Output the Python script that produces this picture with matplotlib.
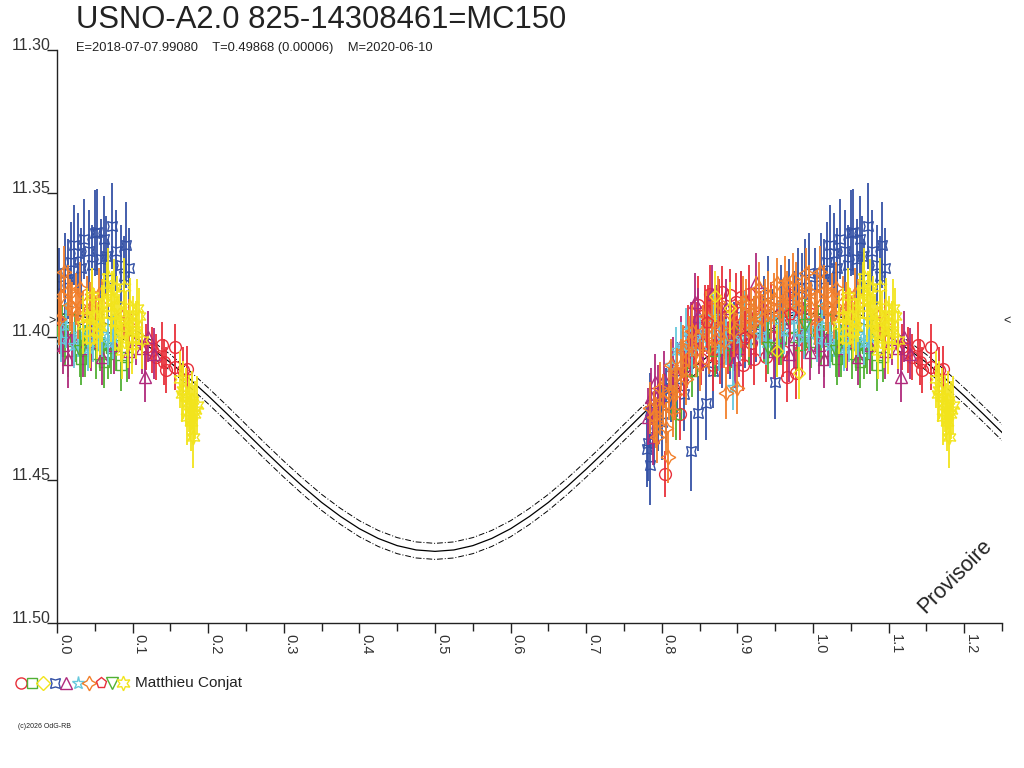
import numpy as np
import matplotlib
matplotlib.use("Agg")
import matplotlib.pyplot as plt
from matplotlib.lines import Line2D

plt.rcParams['font.family'] = ['Liberation Sans', 'DejaVu Sans']

# ---------------- data ----------------
title = "USNO-A2.0 825-14308461=MC150"
subtitle = "E=2018-07-07.99080    T=0.49868 (0.00006)    M=2020-06-10"
observer = "Matthieu Conjat"
x_ticks = [0.0, 0.1, 0.2, 0.3, 0.4, 0.5, 0.6, 0.7, 0.8, 0.9, 1.0, 1.1, 1.2]
x_tick_labels = ["0.0", "0.1", "0.2", "0.3", "0.4", "0.5", "0.6", "0.7", "0.8", "0.9", "1.0", "1.1", "1.2"]
y_ticks = [11.30, 11.35, 11.40, 11.45, 11.50]
y_tick_labels = ["11.30", "11.35", "11.40", "11.45", "11.50"]
mean_mag = 11.3946

model_phase = [0.000, 0.025, 0.050, 0.075, 0.100, 0.125, 0.150, 0.175, 0.200, 0.225, 0.250,
               0.275, 0.300, 0.325, 0.350, 0.375, 0.400, 0.425, 0.450, 0.475, 0.500,
               0.525, 0.550, 0.575, 0.600, 0.625, 0.650, 0.675, 0.700, 0.725, 0.750,
               0.775, 0.800, 0.825, 0.850, 0.875, 0.900, 0.925, 0.950, 0.975, 1.000,
               1.025, 1.050, 1.075, 1.100, 1.125, 1.150, 1.175, 1.200, 1.225, 1.250]
model_mag = [11.3920, 11.3925, 11.3940, 11.3965, 11.3999, 11.4042, 11.4091, 11.4147, 11.4207, 11.4270, 11.4335,
             11.4400, 11.4463, 11.4523, 11.4579, 11.4628, 11.4671, 11.4705, 11.4730, 11.4745, 11.4750,
             11.4745, 11.4730, 11.4705, 11.4671, 11.4628, 11.4579, 11.4523, 11.4463, 11.4400, 11.4335,
             11.4270, 11.4207, 11.4147, 11.4091, 11.4042, 11.3999, 11.3965, 11.3940, 11.3925, 11.3920,
             11.3925, 11.3940, 11.3965, 11.3999, 11.4042, 11.4091, 11.4147, 11.4207, 11.4270, 11.4335]
model_band = 0.0028

# series 1: red circles
red_o_phase = [0.804, 0.815, 0.824, 0.830, 0.835, 0.838, 0.842, 0.846, 0.852, 0.857, 0.861, 0.866, 0.870,
               0.872, 0.877, 0.879, 0.883, 0.885, 0.890, 0.893, 0.896, 0.900, 0.905, 0.912, 0.918, 0.925,
               0.930, 0.938, 0.948, 0.965, 0.978, 0.990, 0.998, 0.004,
               0.833, 0.848, 0.855, 0.864, 0.868, 0.875, 0.888, 0.898, 0.908, 0.915, 0.922, 0.945, 0.955,
               0.960, 0.985,
               0.118, 0.126, 0.131, 0.139, 0.142, 0.144, 0.156, 0.156, 0.167, 0.172]
red_o_mag = [11.448, 11.418, 11.427, 11.412, 11.398, 11.405, 11.402, 11.397, 11.408, 11.391, 11.391, 11.400, 11.395,
             11.404, 11.4075, 11.3844, 11.399, 11.393, 11.3855, 11.402, 11.398, 11.397, 11.3861, 11.392, 11.4024, 11.398,
             11.393, 11.407, 11.400, 11.414, 11.4127, 11.396, 11.392, 11.397,
             11.409, 11.389, 11.403, 11.385, 11.410, 11.390, 11.404, 11.388, 11.410, 11.385, 11.408, 11.390, 11.397,
             11.405, 11.403,
             11.4036, 11.4047, 11.4073, 11.4030, 11.4090, 11.4117, 11.4037, 11.4105, 11.4117, 11.4112]
red_o_err = [0.008, 0.009, 0.009, 0.009, 0.009, 0.009, 0.009, 0.009, 0.009, 0.009, 0.009, 0.009, 0.009,
             0.009, 0.009, 0.009, 0.009, 0.009, 0.009, 0.009, 0.009, 0.009, 0.009, 0.009, 0.009, 0.009,
             0.009, 0.009, 0.009, 0.009, 0.009, 0.009, 0.009, 0.009,
             0.009, 0.010, 0.009, 0.010, 0.009, 0.010, 0.009, 0.010, 0.009, 0.010, 0.009, 0.009, 0.009,
             0.009, 0.009,
             0.008, 0.008, 0.008, 0.008, 0.008, 0.008, 0.008, 0.008, 0.008, 0.008]

# series 2: green squares
green_s_phase = [0.819, 0.905, 0.922, 0.935, 0.945, 0.958, 0.968, 0.980, 0.990, 0.998, 0.006, 0.015, 0.024,
                 0.032, 0.042, 0.052, 0.062, 0.072, 0.078, 0.085, 0.092,
                 0.840, 0.870, 0.890, 0.915, 0.952, 0.975, 0.010, 0.037, 0.057, 0.067]
green_s_mag = [11.427, 11.398, 11.395, 11.400, 11.396, 11.401, 11.397, 11.403, 11.399, 11.402, 11.398, 11.405, 11.400,
               11.408, 11.402, 11.406, 11.409, 11.404, 11.403, 11.410, 11.407,
               11.412, 11.405, 11.403, 11.401, 11.405, 11.400, 11.401, 11.405, 11.403, 11.406]
green_s_err = [0.009] * 31

# series 3: yellow diamonds
yellow_d_phase = [0.870, 0.890, 0.952, 0.982]
yellow_d_mag = [11.386, 11.390, 11.405, 11.4127]
yellow_d_err = [0.009, 0.009, 0.009, 0.009]

# series 4: blue concave squares
blue_phase = [0.781, 0.782, 0.784, 0.784, 0.790, 0.795, 0.805, 0.812, 0.838, 0.848, 0.858, 0.868, 0.880,
              0.895, 0.910, 0.925, 0.935, 0.950, 0.958, 0.968, 0.980, 0.990, 0.003, 0.010, 0.018,
              0.028, 0.032, 0.042, 0.046, 0.050, 0.053, 0.058, 0.062, 0.068, 0.073, 0.084, 0.088, 0.091,
              0.800, 0.820, 0.830, 0.875, 0.890, 0.905, 0.940, 0.975, 0.985, 0.995, 0.014, 0.022,
              0.036, 0.065, 0.078, 0.095]
blue_mag = [11.4394, 11.4373, 11.4449, 11.4259, 11.432, 11.428, 11.424, 11.418, 11.440, 11.4268, 11.4231, 11.412, 11.405,
            11.400, 11.398, 11.396, 11.392, 11.4158, 11.389, 11.386, 11.383, 11.380, 11.382, 11.378, 11.374,
            11.371, 11.376, 11.370, 11.375, 11.364, 11.3635, 11.373, 11.366, 11.380, 11.3615, 11.375, 11.379, 11.368,
            11.430, 11.415, 11.420, 11.395, 11.402, 11.390, 11.385, 11.390, 11.385, 11.378, 11.380, 11.368,
            11.366, 11.372, 11.370, 11.376]
blue_err = [0.013, 0.013, 0.014, 0.013, 0.013, 0.012, 0.013, 0.012, 0.014, 0.013, 0.013, 0.013, 0.013,
            0.012, 0.013, 0.013, 0.013, 0.013, 0.014, 0.013, 0.014, 0.014, 0.013, 0.014, 0.014,
            0.014, 0.014, 0.014, 0.014, 0.015, 0.015, 0.014, 0.015, 0.014, 0.015, 0.014, 0.014, 0.015,
            0.013, 0.013, 0.013, 0.013, 0.013, 0.013, 0.013, 0.013, 0.014, 0.014, 0.014, 0.014,
            0.014, 0.014, 0.014, 0.014]

# series 5: magenta triangles
mag_t_phase = [0.782, 0.786, 0.788, 0.791, 0.795, 0.803, 0.815, 0.826, 0.838, 0.848, 0.860, 0.872, 0.880,
               0.892, 0.902, 0.912, 0.925, 0.935, 0.948, 0.960, 0.975, 0.988, 0.996, 0.008, 0.020,
               0.035, 0.075, 0.095, 0.105, 0.112, 0.117, 0.121, 0.128,
               0.832, 0.844, 0.854, 0.866, 0.885, 0.897, 0.918, 0.940, 0.955, 0.968, 0.982, 0.015,
               0.045, 0.060]
mag_t_mag = [11.428, 11.421, 11.435, 11.416, 11.420, 11.415, 11.410, 11.403, 11.398, 11.393, 11.396, 11.392, 11.401,
             11.397, 11.404, 11.393, 11.381, 11.398, 11.405, 11.395, 11.401, 11.398, 11.4053, 11.403, 11.400,
             11.404, 11.403, 11.405, 11.401, 11.404, 11.414, 11.400, 11.406,
             11.410, 11.388, 11.402, 11.385, 11.390, 11.408, 11.400, 11.392, 11.400, 11.406, 11.392, 11.408,
             11.402, 11.407]
mag_t_err = [0.010] * 28 + [0.009] * 5 + [0.010] * 14

# series 6: cyan stars
cyan_phase = [0.812, 0.819, 0.832, 0.850, 0.868, 0.885, 0.894, 0.903, 0.918, 0.930, 0.945, 0.962, 0.975,
              0.988, 0.995, 0.005, 0.012, 0.022, 0.035, 0.048, 0.060, 0.068, 0.074,
              0.825, 0.840, 0.858, 0.876, 0.910, 0.938, 0.955, 0.982, 0.028, 0.041, 0.055]
cyan_mag = [11.410, 11.4047, 11.398, 11.400, 11.393, 11.402, 11.4175, 11.4005, 11.396, 11.399, 11.394, 11.398, 11.394,
            11.400, 11.397, 11.401, 11.396, 11.403, 11.398, 11.401, 11.399, 11.402, 11.400,
            11.403, 11.405, 11.397, 11.404, 11.392, 11.402, 11.396, 11.398, 11.399, 11.404, 11.397]
cyan_err = [0.008] * 34

# series 7: orange four-point stars
orange_phase = [0.785, 0.790, 0.792, 0.793, 0.797, 0.798, 0.801, 0.805, 0.808, 0.810, 0.812, 0.815, 0.820,
                0.828, 0.836, 0.845, 0.855, 0.862, 0.870, 0.878, 0.885, 0.890, 0.899, 0.905, 0.912,
                0.918, 0.925, 0.932, 0.940, 0.945, 0.952, 0.960, 0.966, 0.973, 0.978, 0.985, 0.991,
                0.998, 0.005, 0.009, 0.014, 0.020, 0.025, 0.030, 0.035, 0.040, 0.046, 0.052, 0.060,
                0.088, 0.095,
                0.818, 0.825, 0.832, 0.840, 0.850, 0.858, 0.866, 0.874, 0.882, 0.895, 0.908, 0.915,
                0.922, 0.928, 0.936, 0.948, 0.956, 0.963, 0.970, 0.982, 0.995, 0.002, 0.017, 0.028,
                0.043, 0.056]
orange_mag = [11.425, 11.428, 11.430, 11.435, 11.418, 11.425, 11.422, 11.432, 11.442, 11.420, 11.410, 11.426, 11.413,
              11.405, 11.402, 11.405, 11.398, 11.404, 11.401, 11.397, 11.4198, 11.392, 11.418, 11.395, 11.389,
              11.392, 11.388, 11.394, 11.386, 11.392, 11.3815, 11.389, 11.386, 11.380, 11.383, 11.388, 11.378,
              11.390, 11.386, 11.3774, 11.384, 11.390, 11.387, 11.383, 11.393, 11.388, 11.385, 11.395, 11.389,
              11.392, 11.396,
              11.420, 11.410, 11.415, 11.398, 11.410, 11.393, 11.395, 11.388, 11.402, 11.398, 11.388, 11.398,
              11.395, 11.383, 11.389, 11.387, 11.392, 11.381, 11.388, 11.390, 11.384, 11.394, 11.389, 11.392,
              11.390, 11.385]
orange_err = [0.009] * 77

# series 8: red pentagons
red_p_phase = [0.860, 0.910, 0.970]
red_p_mag = [11.395, 11.400, 11.392]
red_p_err = [0.009, 0.009, 0.009]

# series 9: green down triangles
green_v_phase = [0.940, 0.990, 0.030]
green_v_mag = [11.404, 11.396, 11.405]
green_v_err = [0.009, 0.009, 0.009]

# series 10: yellow six-point stars
yellow_phase = [0.035, 0.040, 0.044, 0.049, 0.053, 0.057, 0.062, 0.066, 0.068, 0.071, 0.073, 0.077, 0.080,
                0.084, 0.088, 0.091, 0.094, 0.097, 0.100, 0.104, 0.108, 0.112,
                0.046, 0.060, 0.075, 0.082, 0.086, 0.099, 0.106,
                0.163, 0.167, 0.170, 0.172, 0.174, 0.176, 0.178, 0.180, 0.183, 0.185, 0.165, 0.177, 0.181]
yellow_mag = [11.396, 11.393, 11.401, 11.393, 11.398, 11.3966, 11.388, 11.384, 11.3791, 11.392, 11.3873, 11.395, 11.389,
              11.399, 11.3826, 11.394, 11.401, 11.3896, 11.396, 11.3977, 11.393, 11.4012,
              11.386, 11.392, 11.383, 11.395, 11.405, 11.403, 11.390,
              11.415, 11.4187, 11.421, 11.428, 11.4233, 11.4262, 11.4222, 11.435, 11.4257, 11.4239, 11.420, 11.430, 11.427]
yellow_err = [0.010] * 36 + [0.011] + [0.010] * 5

# ---------------- styles ----------------
RED = '#e8303a'
GREEN = '#50b034'
YELLOW = '#f2e41c'
BLUE = '#3552a6'
MAGENTA = '#b02a7c'
CYAN = '#66c8dc'
ORANGE = '#f2802c'
TXT = '#222222'

STAR4X = (4, 1, 45)
STAR4 = (4, 1, 0)
STAR6 = (6, 1, 0)

series = [
    (blue_phase, blue_mag, blue_err, STAR4X, BLUE, 10),
    (red_o_phase, red_o_mag, red_o_err, 'o', RED, 8.5),
    (green_s_phase, green_s_mag, green_s_err, 's', GREEN, 7.5),
    (mag_t_phase, mag_t_mag, mag_t_err, '^', MAGENTA, 8),
    (cyan_phase, cyan_mag, cyan_err, '*', CYAN, 9.5),
    (orange_phase, orange_mag, orange_err, STAR4, ORANGE, 10.5),
    (red_p_phase, red_p_mag, red_p_err, 'p', RED, 8.5),
    (green_v_phase, green_v_mag, green_v_err, 'v', GREEN, 8),
    (yellow_d_phase, yellow_d_mag, yellow_d_err, 'D', YELLOW, 6),
    (yellow_phase, yellow_mag, yellow_err, STAR6, YELLOW, 10.5),
]
legend_items = [('o', RED, 8), ('s', GREEN, 7), ('D', YELLOW, 7), (STAR4X, BLUE, 10), ('^', MAGENTA, 8),
                ('*', CYAN, 9.5), (STAR4, ORANGE, 10.5), ('p', RED, 8), ('v', GREEN, 8), (STAR6, YELLOW, 10.5)]

fig = plt.figure(figsize=(10.24, 7.68), dpi=100)
fig.patch.set_facecolor('white')
ax = fig.add_axes([57 / 1024, 1 - 623 / 768, 945 / 1024, 573 / 768])

XMAX = 1.25
mp = np.array(model_phase)
mm = np.array(model_mag)
ax.plot(mp, mm, color='black', lw=0.9, zorder=1)
ax.plot(mp, mm - model_band, color='black', lw=0.7, ls=(0, (6, 2, 1, 2)), zorder=1)
ax.plot(mp, mm + model_band, color='black', lw=0.7, ls=(0, (6, 2, 1, 2)), zorder=1)

z = 2
for ph, mg, er, mk, col, ms in series:
    ph = np.array(ph); mg = np.array(mg); er = np.array(er)
    wrap = ph + 1.0 <= XMAX
    allp = np.concatenate([ph, ph[wrap] + 1.0])
    allm = np.concatenate([mg, mg[wrap]])
    alle = np.concatenate([er, er[wrap]])
    ax.errorbar(allp, allm, yerr=alle, fmt='none', ecolor=col, elinewidth=1.3, capsize=0, zorder=z)
    ax.plot(allp, allm, ls='none', marker=mk, ms=ms, mfc='none', mec=col, mew=1.0, zorder=z + 0.5)
    z += 1

ax.set_xlim(0, XMAX)
ax.set_ylim(11.50, 11.30)

for s in ('top', 'right'):
    ax.spines[s].set_visible(False)
for s in ('left', 'bottom'):
    ax.spines[s].set_color(TXT)
    ax.spines[s].set_linewidth(1.0)

ax.set_xticks(x_ticks)
ax.set_xticklabels(x_tick_labels, rotation=270, ha='left', va='top', fontsize=10.5, color='#333333')
ax.set_xticks([t + 0.05 for t in x_ticks], minor=True)
ax.tick_params(axis='x', which='major', direction='out', length=7.5, width=1, color=TXT, pad=0.5)
ax.tick_params(axis='x', which='minor', direction='out', length=6, width=1, color=TXT)

ax.set_yticks(y_ticks)
ax.set_yticklabels(y_tick_labels, fontsize=11.5, color='#333333')
for lbl in ax.get_yticklabels():
    lbl.set_va('baseline')
ax.tick_params(axis='y', direction='out', length=7.5, width=1, color=TXT, pad=-3)

ax.text(-0.001, mean_mag, '>', transform=ax.get_yaxis_transform(), ha='right', va='center',
        fontsize=9, color=TXT, clip_on=False)
ax.text(1.001, mean_mag, '<', transform=ax.get_yaxis_transform(), ha='left', va='center',
        fontsize=9, color=TXT, clip_on=False)

ax.text((955 - 57) / 945, 1 - (576 - 50) / 573, 'Provisoire', transform=ax.transAxes,
        rotation=45, ha='center', va='center', fontsize=15.5, color=TXT)

fig.text(76 / 1024, 1 - 20 / 768, title, fontsize=22.3, color=TXT, ha='left', va='center')
fig.text(76 / 1024, 1 - 48 / 768, subtitle, fontsize=9.3, color=TXT, ha='left', va='center')

lx = [20.7, 32.3, 43.3, 55.0, 66.0, 77.7, 89.3, 100.7, 112.3, 123.3]
for xpx, (mk, col, ms) in zip(lx, legend_items):
    fig.add_artist(Line2D([xpx / 1024], [1 - 683 / 768], transform=fig.transFigure, ls='none',
                          marker=mk, ms=ms, mfc='none', mec=col, mew=1.0))
fig.text(135 / 1024, 1 - 683 / 768, observer, fontsize=11, color=TXT, ha='left', va='center')

fig.text(18 / 1024, 1 - 726 / 768, '(c)2026 OdG-RB', fontsize=5, color=TXT, ha='left', va='center')

fig.savefig('out.png', dpi=100, facecolor='white')
